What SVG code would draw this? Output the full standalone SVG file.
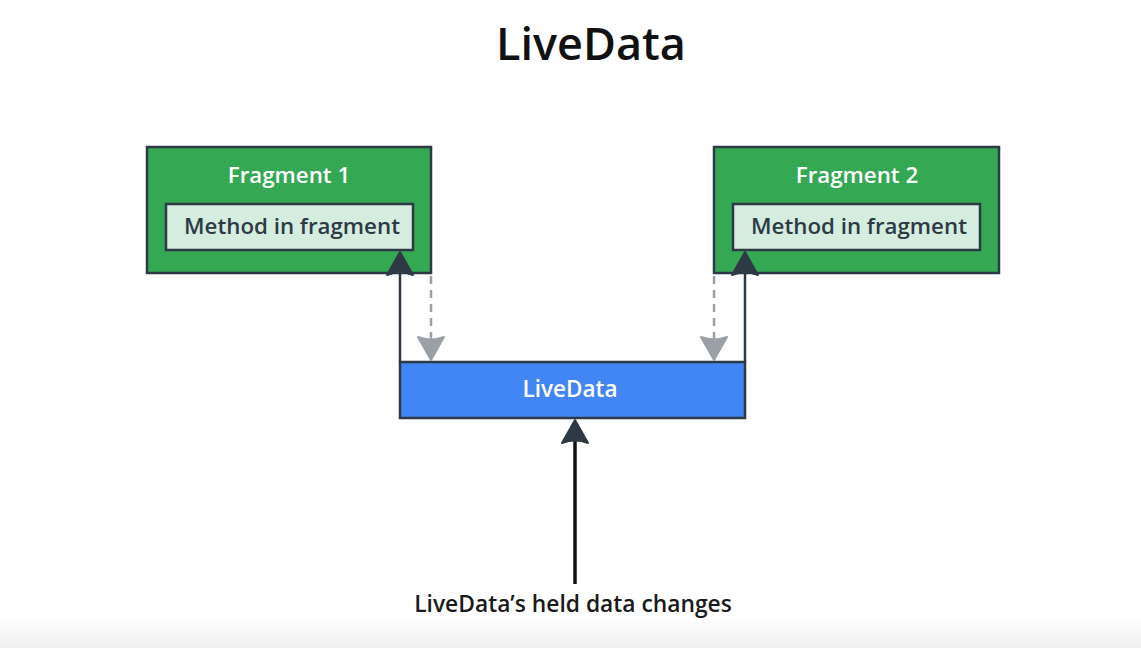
<svg xmlns="http://www.w3.org/2000/svg" width="1141" height="648" viewBox="0 0 1141 648">
<defs>
<style>
.t{font-family:"Open Sans","Noto Sans","Liberation Sans",sans-serif;font-weight:600;text-anchor:middle}
.frag{fill:#34a853;stroke:#2d3a45;stroke-width:2.5}
.inner{fill:#d5eddf;stroke:#2d3a45;stroke-width:2.5}
.solid{stroke:#2d3a45;stroke-width:2.5;fill:none}
.dash{stroke:#9aa0a6;stroke-width:2.5;stroke-dasharray:8 6;fill:none}
</style>
<linearGradient id="bg" x1="0" y1="0" x2="0" y2="1">
<stop offset="0" stop-color="#ffffff"/>
<stop offset="1" stop-color="#efefef"/>
</linearGradient>
</defs>
<rect width="1141" height="648" fill="#ffffff"/>
<rect y="618" width="1141" height="30" fill="url(#bg)"/>
<text class="t" x="591" y="60" font-size="45" fill="#111">LiveData</text>

<g id="fragment1">
<rect class="frag" x="147" y="147" width="284" height="126"/>
<text class="t" x="289" y="183" font-size="22.3" fill="#ffffff">Fragment 1</text>
<rect class="inner" x="166" y="204" width="247" height="46"/>
<text class="t" x="292" y="234" font-size="22.3" fill="#2d3a45">Method in fragment</text>
</g>

<g id="fragment2">
<rect class="frag" x="714" y="147" width="285" height="126"/>
<text class="t" x="857" y="183" font-size="22.3" fill="#ffffff">Fragment 2</text>
<rect class="inner" x="733" y="204" width="247" height="46"/>
<text class="t" x="859" y="234" font-size="22.3" fill="#2d3a45">Method in fragment</text>
</g>

<g id="livedata">
<rect x="400" y="362" width="345" height="56" fill="#4285f4" stroke="#2d3a45" stroke-width="2.5"/>
<text class="t" x="570" y="397" font-size="22.5" fill="#ffffff">LiveData</text>
</g>

<g id="connectors">
<line class="solid" x1="400" y1="362" x2="400" y2="270"/>
<path d="M400 252 L413 275 Q400 270 387 275 Z" fill="#2d3a45" stroke="#2d3a45" stroke-width="2" stroke-linejoin="round"/>
<line class="solid" x1="745" y1="362" x2="745" y2="270"/>
<path d="M745 252 L758 275 Q745 270 732 275 Z" fill="#2d3a45" stroke="#2d3a45" stroke-width="2" stroke-linejoin="round"/>
<line class="dash" x1="431" y1="276" x2="431" y2="340"/>
<path d="M431 360 L418 337 Q431 342 444 337 Z" fill="#9aa0a6" stroke="#9aa0a6" stroke-width="2" stroke-linejoin="round"/>
<line class="dash" x1="714" y1="276" x2="714" y2="340"/>
<path d="M714 360 L701 337 Q714 342 727 337 Z" fill="#9aa0a6" stroke="#9aa0a6" stroke-width="2" stroke-linejoin="round"/>
<line x1="575" y1="584" x2="575" y2="440" stroke="#111" stroke-width="3.5"/>
<path d="M575 420 L588 443 Q575 438 562 443 Z" fill="#2d3a45" stroke="#2d3a45" stroke-width="2" stroke-linejoin="round"/>
</g>

<text class="t" x="573" y="612" font-size="22.8" fill="#1a1a1a">LiveData’s held data changes</text>
</svg>
